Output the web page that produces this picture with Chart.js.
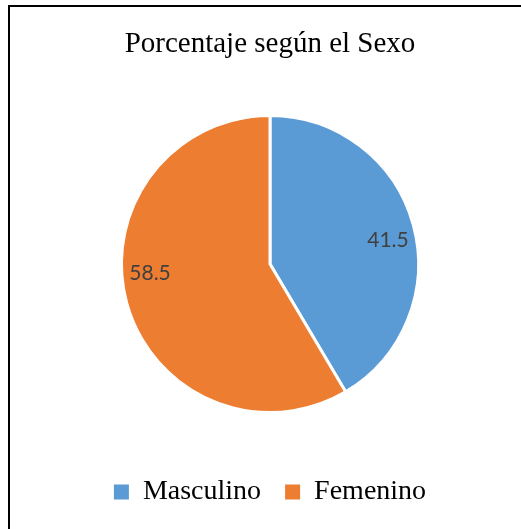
<!DOCTYPE html>
<html>
<head>
<meta charset="utf-8">
<script src="https://cdn.jsdelivr.net/npm/chart.js@4/dist/chart.umd.min.js"></script>
<style>
  html, body { margin: 0; padding: 0; background: #fff; overflow: hidden; }
  #frame { position: absolute; left: 8px; top: 5px; border: 2px solid #000; background: #fff; }
  #frame canvas { display: block; }
</style>
</head>
<body>
<div id="frame"><canvas id="chart" width="520" height="522"></canvas></div>
<script>
'use strict';

var categories = ['Masculino', 'Femenino'];
var percentages = [41.5, 58.5];
var sliceColors = ['#5B9BD5', '#ED7D31'];

// value labels drawn inside the slices, roughly where excel's "best fit" puts them
var sliceLabels = {
    id: 'sliceLabels',
    afterDatasetsDraw: function(chart, args, opts) {
        var ctx = chart.ctx,
            meta = chart.getDatasetMeta(0),
            values = chart.data.datasets[0].data;
        ctx.save();
        ctx.font = opts.font;
        ctx.fillStyle = opts.color;
        ctx.textAlign = 'center';
        ctx.textBaseline = 'middle';
        meta.data.forEach(function(arc, i) {
            var p = arc.getProps(['x', 'y', 'startAngle', 'endAngle', 'outerRadius'], true);
            var a = (p.startAngle + p.endAngle) / 2 + (opts.shift[i] || 0) * Math.PI / 180;
            var r = p.outerRadius * opts.distance;
            ctx.fillText(values[i].toFixed(1), p.x + Math.cos(a) * r, p.y + Math.sin(a) * r);
        });
        ctx.restore();
    }
};

var pieLegend = Chart.overrides.pie.plugins.legend.labels.generateLabels;

new Chart(document.getElementById('chart'), {
    type: 'pie',
    data: {
        labels: categories,
        datasets: [{
            data: percentages,
            backgroundColor: sliceColors,
            borderColor: '#ffffff',
            borderWidth: 3,
            radius: '78.8%'
        }]
    },
    plugins: [sliceLabels],
    options: {
        responsive: false,
        animation: false,
        layout: { padding: { top: 0, bottom: 13, left: 0, right: 0 } },
        plugins: {
            tooltip: { enabled: false },
            title: {
                display: true,
                text: 'Porcentaje según el Sexo',
                color: '#000000',
                font: { family: '"Liberation Serif", "Times New Roman", serif', size: 29, weight: 'normal', lineHeight: 1.2 },
                padding: { top: 19.6, bottom: 12.6 }
            },
            legend: {
                position: 'bottom',
                labels: {
                    color: '#000000',
                    boxWidth: 15,
                    boxHeight: 15,
                    padding: 24,
                    font: { family: '"Liberation Serif", "Times New Roman", serif', size: 28 },
                    generateLabels: function(chart) {
                        return pieLegend(chart).map(function(item) {
                            item.lineWidth = 0;
                            return item;
                        });
                    }
                }
            },
            sliceLabels: {
                font: '21px Lato, "Open Sans", sans-serif',
                color: '#404040',
                distance: 0.81,
                shift: [4, 11]
            }
        }
    }
});
</script>
</body>
</html>
